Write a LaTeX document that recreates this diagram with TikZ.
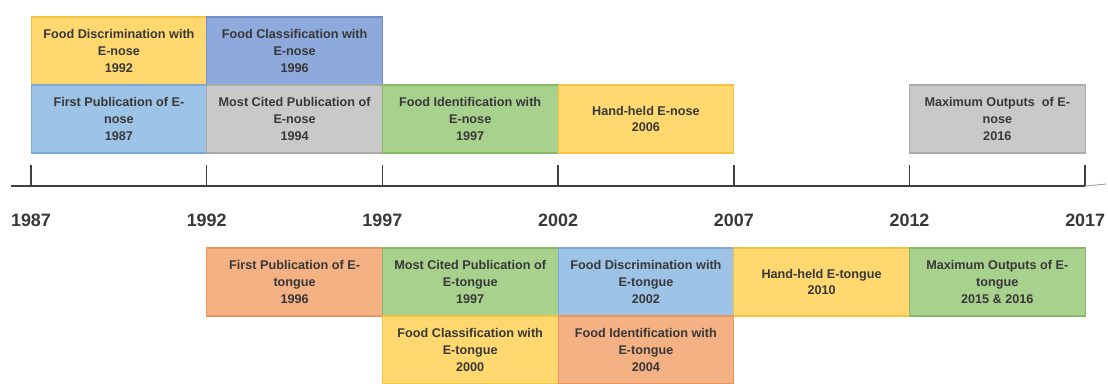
\documentclass[tikz,border=0pt]{standalone}
\usepackage{fontspec}
\setmainfont{Liberation Sans}
\usepackage{tikz}
\definecolor{txt}{HTML}{383838}
\definecolor{axis}{HTML}{404040}
\definecolor{fyel}{HTML}{FFD970}
\definecolor{dyel}{HTML}{F5C242}
\definecolor{fblu}{HTML}{8EA9DB}
\definecolor{dblu}{HTML}{6E8FCB}
\definecolor{flbl}{HTML}{9DC3E6}
\definecolor{dlbl}{HTML}{7EA9D6}
\definecolor{fgry}{HTML}{C9C9C9}
\definecolor{dgry}{HTML}{ABABAB}
\definecolor{fgrn}{HTML}{A9D18E}
\definecolor{dgrn}{HTML}{86B868}
\definecolor{fsal}{HTML}{F4B183}
\definecolor{dsal}{HTML}{E8955E}
\tikzset{every picture/.style={x=0.02cm, y=-0.02cm}}
\tikzset{box/.style={draw, rectangle, minimum width=3.514cm, minimum height=1.36cm, inner sep=1pt, align=center, text=txt, line width=0.6pt, font=\fontsize{7.2}{9.6}\selectfont\bfseries}}
\tikzset{yel/.style={box, fill=fyel, draw=dyel}}
\tikzset{blu/.style={box, fill=fblu, draw=dblu}}
\tikzset{lbl/.style={box, fill=flbl, draw=dlbl}}
\tikzset{gry/.style={box, fill=fgry, draw=dgry}}
\tikzset{grn/.style={box, fill=fgrn, draw=dgrn}}
\tikzset{sal/.style={box, fill=fsal, draw=dsal}}
\tikzset{year/.style={text=txt, inner sep=0pt, font=\fontsize{10.2}{12}\selectfont\bfseries}}

\begin{document}
\begin{tikzpicture}
\clip (0,0) rectangle (1108,383);
% e-nose, upper rows
\node[yel] (1) at (118.9,51) {Food Discrimination with\\E-nose\\1992};
\node[blu] (2) at (294.6,51) {Food Classification with\\E-nose\\1996};
\node[lbl] (3) at (118.9,119) {First Publication of E-\\nose\\1987};
\node[gry] (4) at (294.6,119) {Most Cited Publication of\\E-nose\\1994};
\node[grn] (5) at (470.2,119) {Food Identification with\\E-nose\\1997};
\node[yel] (6) at (645.9,119) {Hand-held E-nose\\2006};
\node[gry] (7) at (997.3,119) {Maximum Outputs\ \ of E-\\nose\\2016};
% axis
\coordinate (a) at (11,186);
\coordinate (b) at (1085.2,186);
\coordinate (c) at (1106,184);
\draw[axis, line width=0.9pt] (a) -- (b);
\draw[axis!50, line width=0.5pt] (b) -- (c);
\coordinate (t1) at (31,165);
\coordinate (t2) at (206.7,165);
\coordinate (t3) at (382.4,165);
\coordinate (t4) at (558.1,165);
\coordinate (t5) at (733.8,165);
\coordinate (t6) at (909.5,165);
\coordinate (t7) at (1085.2,165);
\draw[axis, line width=0.9pt] (t1) -- (t1 |- a) (t2) -- (t2 |- a) (t3) -- (t3 |- a) (t4) -- (t4 |- a) (t5) -- (t5 |- a) (t6) -- (t6 |- a) (t7) -- (t7 |- a);
\node[year] (y1) at (31,220) {1987};
\node[year] (y2) at (206.7,220) {1992};
\node[year] (y3) at (382.4,220) {1997};
\node[year] (y4) at (558.1,220) {2002};
\node[year] (y5) at (733.8,220) {2007};
\node[year] (y6) at (909.5,220) {2012};
\node[year] (y7) at (1085.2,220) {2017};
% e-tongue, lower rows
\node[sal] (8) at (294.6,282) {First Publication of E-\\tongue\\1996};
\node[grn] (9) at (470.2,282) {Most Cited Publication of\\E-tongue\\1997};
\node[lbl] (10) at (645.9,282) {Food Discrimination with\\E-tongue\\2002};
\node[yel] (11) at (821.6,282) {Hand-held E-tongue\\2010};
\node[grn] (12) at (997.3,282) {Maximum Outputs of E-\\tongue\\2015 \& 2016};
\node[yel] (13) at (470.2,350) {Food Classification with\\E-tongue\\2000};
\node[sal] (14) at (645.9,350) {Food Identification with\\E-tongue\\2004};
\end{tikzpicture}
\end{document}
